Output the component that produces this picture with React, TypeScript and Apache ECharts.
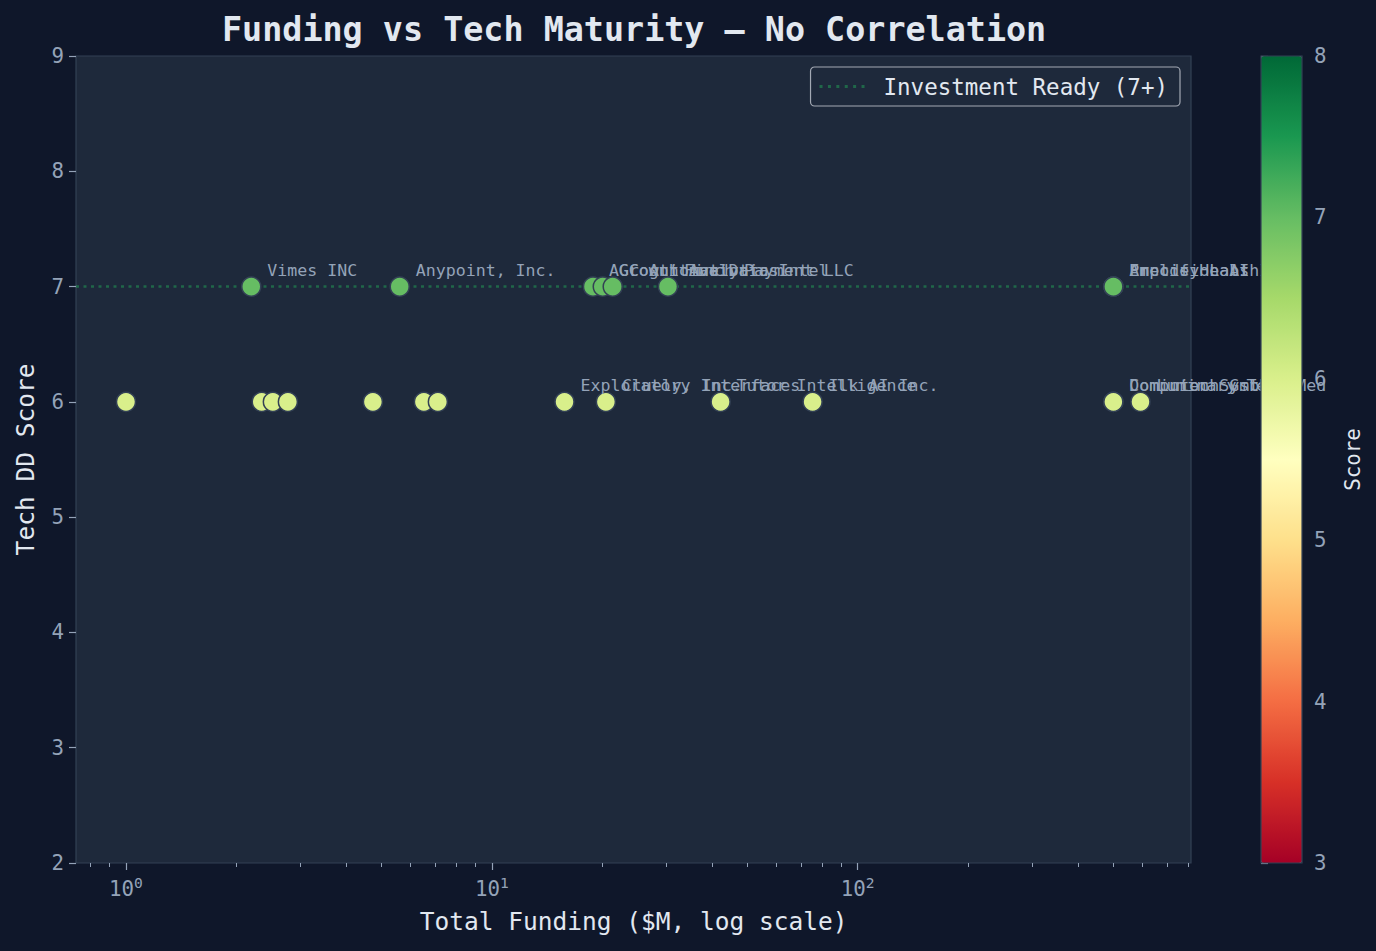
import React, { useEffect, useRef } from 'react';
import * as echarts from 'echarts';

// company funding ($M) vs tech due-diligence score
const companyNames = [
    'Vimes INC', 'Anypoint, Inc.', 'AGC Automation', 'Growth Analytics', 'Cognitive Data Intel',
    'Finch Payment LLC', 'Encode Health', 'Amplify Labs', 'Precision AI Inc',
    '', '', '', '', '', '', '',
    'Exploratory Interfaces', 'Cluely, Inc.', 'Tutor Intelligence', 'Ilk AI Inc.',
    'Dominion Systems', 'Computech GmbH', 'Luminary Tech Med',
];
const fundingM = [
    2.2, 5.6, 18.9, 20.1, 21.4,
    30.3, 500, 500, 500,
    1.0, 2.35, 2.52, 2.77, 4.73, 6.52, 7.12,
    15.8, 20.5, 42.2, 75.3,
    500, 500, 593,
];
const techScores = [
    7, 7, 7, 7, 7,
    7, 7, 7, 7,
    6, 6, 6, 6, 6, 6, 6,
    6, 6, 6, 6,
    6, 6, 6,
];

const xMajorTicks = [1, 10, 100];
const xMinorTicks = [0.8, 0.9, 2, 3, 4, 5, 6, 7, 8, 9, 20, 30, 40, 50, 60, 70, 80, 90, 200, 300, 400, 500, 600, 700, 800];
const xRange = [0.73, 815];
const yRange = [2, 9];
const scoreRange = [3, 8];
const readyThreshold = 7;

const rdYlGn = ['#a50026', '#d73027', '#f46d43', '#fdae61', '#fee08b', '#ffffbf', '#d9ef8b', '#a6d96a', '#66bd63', '#1a9850', '#006837'];

const FONT = '"DejaVu Sans Mono", monospace';
const tickColor = '#94a3b8';
const textColor = '#e2e8f0';
const spineColor = '#334155';
const readyColor = 'rgba(34,197,94,0.4)';

// six small squares, a dotted line sample for the legend
const dottedIcon = 'path://M0,0h3v3h-3z M8.4,0h3v3h-3z M16.8,0h3v3h-3z M25.2,0h3v3h-3z M33.6,0h3v3h-3z M42,0h3v3h-3z';

const App: React.FC = () => {
    const chartRef = useRef<HTMLDivElement>(null);

    useEffect(() => {
        document.body.style.margin = '0';
        document.body.style.background = '#0f172a';
        if (!chartRef.current) return;
        const myChart = echarts.init(chartRef.current, null, { renderer: 'svg' });

        const points = fundingM.map((f, i) => [f, techScores[i], companyNames[i]]);

        const option = {
            animation: false,
            backgroundColor: '#0f172a',
            textStyle: { fontFamily: FONT },
            title: {
                text: 'Funding vs Tech Maturity — No Correlation',
                left: 222,
                top: 13,
                padding: 0,
                textStyle: { fontFamily: FONT, fontSize: 33.4, fontWeight: 'bold', color: textColor },
            },
            legend: {
                data: [{ name: 'Investment Ready (7+)', icon: dottedIcon, itemStyle: { color: readyColor } }],
                right: 196,
                top: 67,
                padding: [8, 12, 8, 9],
                itemWidth: 45,
                itemHeight: 3,
                backgroundColor: '#1e293b',
                borderColor: '#a3a9b4',
                borderWidth: 1.2,
                borderRadius: 4,
                textStyle: { fontFamily: FONT, fontSize: 22.5, color: textColor, padding: [0, 0, 0, 14] },
            },
            grid: [
                {
                    left: 76, top: 56, width: 1115, height: 807,
                    show: true, backgroundColor: '#1e293b', borderColor: spineColor, borderWidth: 1.2,
                },
                {
                    left: 1261, top: 56, width: 41, height: 807,
                    show: true, backgroundColor: 'transparent', borderColor: spineColor, borderWidth: 1.2, z: 6,
                },
            ],
            xAxis: [
                {
                    type: 'log', logBase: 10, gridIndex: 0,
                    min: xRange[0], max: xRange[1],
                    name: 'Total Funding ($M, log scale)',
                    nameLocation: 'middle', nameGap: 46,
                    nameTextStyle: { fontFamily: FONT, fontSize: 24.5, color: textColor },
                    axisLine: { show: false },
                    splitLine: { show: false },
                    axisTick: { show: true, length: 7, customValues: xMajorTicks, lineStyle: { color: tickColor, width: 1.2 } },
                    axisLabel: {
                        customValues: xMajorTicks,
                        margin: 12,
                        formatter: (v: number) => `{b|10}{s|${Math.round(Math.log10(v))}}`,
                        rich: {
                            b: { fontFamily: FONT, fontSize: 20.8, color: tickColor },
                            s: { fontFamily: FONT, fontSize: 14.6, color: tickColor, verticalAlign: 'top', padding: [0, 0, 12, 0] },
                        },
                    },
                },
                {
                    type: 'log', logBase: 10, gridIndex: 0,
                    min: xRange[0], max: xRange[1],
                    position: 'bottom',
                    axisLine: { show: false },
                    splitLine: { show: false },
                    axisLabel: { show: false },
                    axisTick: { show: true, length: 4, customValues: xMinorTicks, lineStyle: { color: tickColor, width: 1 } },
                },
                {
                    type: 'value', gridIndex: 1, show: false, min: 0, max: 1,
                },
            ],
            yAxis: [
                {
                    type: 'value', gridIndex: 0,
                    min: yRange[0], max: yRange[1], interval: 1,
                    name: 'Tech DD Score',
                    nameLocation: 'middle', nameGap: 38,
                    nameTextStyle: { fontFamily: FONT, fontSize: 24.5, color: textColor },
                    axisLine: { show: false },
                    splitLine: { show: false },
                    axisTick: { show: true, length: 7, lineStyle: { color: tickColor, width: 1.2 } },
                    axisLabel: { fontFamily: FONT, fontSize: 20.8, color: tickColor, margin: 12 },
                },
                {
                    type: 'value', gridIndex: 1, position: 'right',
                    min: scoreRange[0], max: scoreRange[1], interval: 1,
                    name: 'Score',
                    nameLocation: 'middle', nameGap: 40, nameRotate: 90,
                    nameTextStyle: { fontFamily: FONT, fontSize: 20.8, color: textColor },
                    axisLine: { show: false },
                    splitLine: { show: false },
                    axisTick: { show: true, length: 7, lineStyle: { color: tickColor, width: 1.2 } },
                    axisLabel: { fontFamily: FONT, fontSize: 20.8, color: tickColor, margin: 12 },
                },
            ],
            visualMap: {
                type: 'continuous',
                min: scoreRange[0], max: scoreRange[1],
                dimension: 1,
                seriesIndex: 0,
                inRange: { color: rdYlGn },
                calculable: false,
                hoverLink: false,
                itemWidth: 41,
                itemHeight: 807,
                left: 1261,
                top: 56,
                padding: 0,
                z: 5,
            },
            series: [
                {
                    type: 'scatter',
                    xAxisIndex: 0, yAxisIndex: 0,
                    data: points,
                    symbolSize: 19,
                    z: 3,
                    itemStyle: { borderColor: spineColor, borderWidth: 1.5, opacity: 1 },
                    emphasis: { disabled: true },
                    label: {
                        show: true,
                        position: 'inside',
                        align: 'left',
                        verticalAlign: 'middle',
                        offset: [16, -16],
                        formatter: (p: any) => p.data[2],
                        fontFamily: FONT,
                        fontSize: 16.6,
                        color: tickColor,
                    },
                },
                {
                    type: 'line',
                    name: 'Investment Ready (7+)',
                    xAxisIndex: 0, yAxisIndex: 0,
                    data: [[xRange[0], readyThreshold], [xRange[1], readyThreshold]],
                    symbol: 'none',
                    z: 2,
                    silent: true,
                    lineStyle: { color: readyColor, width: 2.5, type: [3, 4.5] },
                    itemStyle: { color: readyColor },
                },
            ],
        };

        myChart.setOption(option as any);

        return () => {
            myChart.dispose();
        };
    }, []);

    return <div ref={chartRef} style={{ width: '1376px', height: '951px' }} />;
};

export default App;
